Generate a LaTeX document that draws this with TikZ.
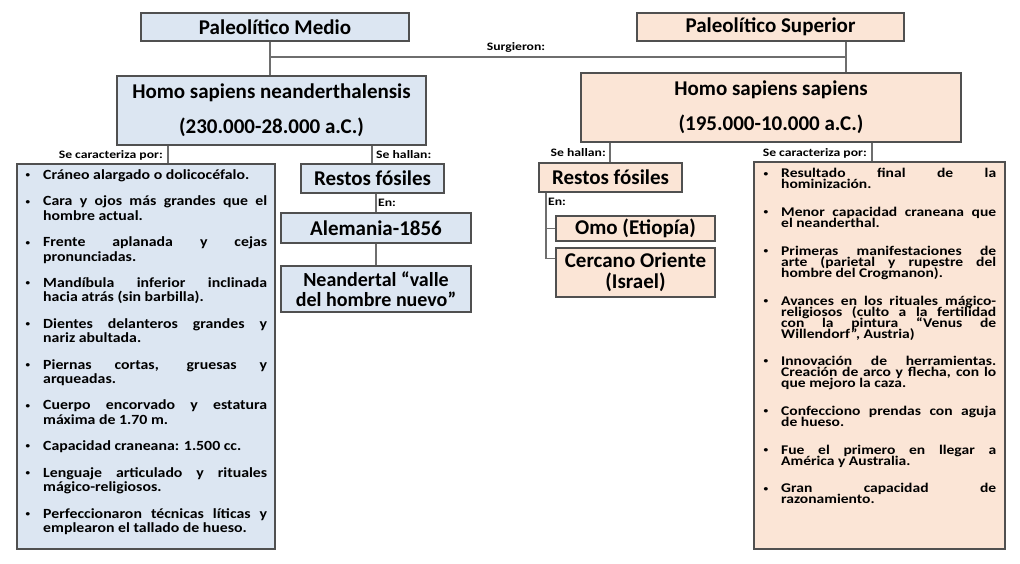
\documentclass[tikz,border=0pt]{standalone}
\usepackage{fontspec}
\setmainfont{Carlito}
\newfontfamily\listfontL[FakeStretch=1.13]{Carlito}
\newfontfamily\listfontR[FakeStretch=1.17]{Carlito}
\newfontfamily\labfont[FakeStretch=1.2]{Carlito}
\usetikzlibrary{calc}
\definecolor{bluefill}{RGB}{220,230,242}
\definecolor{peachfill}{RGB}{251,229,214}
\definecolor{edgec}{RGB}{80,80,80}
\definecolor{connc}{RGB}{110,110,110}
\newcommand\lstitem[1]{\noindent\hangindent=18pt\hangafter=1\makebox[18pt][l]{\hspace{0.5pt}\raisebox{1.8pt}{\fontsize{8}{8}\selectfont •}}#1\par}
\tikzset{
  box/.style={draw=edgec, line width=1.2pt, inner sep=0pt, font=\bfseries, align=center},
  bbox/.style={box, fill=bluefill},
  pbox/.style={box, fill=peachfill},
  conn/.style={draw=connc, line width=1.1pt},
  lab/.style={font=\labfont\bfseries\fontsize{11.4}{12}\selectfont, inner sep=0pt},
  listtext/.style={inner sep=0pt, anchor=base west, align=justify},
  ttl/.style={font=\bfseries\fontsize{21}{35}\selectfont},
  sml/.style={font=\bfseries\fontsize{21}{21}\selectfont},
}
\begin{document}
\begin{tikzpicture}[x=1pt,y=-1pt]
\fill[white] (0,0) rectangle (1020,564);
\useasboundingbox (0,0) rectangle (1020,564);

% top boxes
\node[bbox, ttl, minimum width=268pt, minimum height=28pt] (pm) at (275,27) {Paleolítico Medio};
\node[pbox, ttl, minimum width=267pt, minimum height=28pt] (ps) at (770.5,27) {Paleolítico Superior};

\node[bbox, ttl, minimum width=309pt, minimum height=69pt] (hsn) at (271.5,110.5) {Homo sapiens neanderthalensis\\(230.000-28.000 a.C.)};
\node[pbox, ttl, minimum width=380pt, minimum height=69pt] (hss) at (771,107.5) {Homo sapiens sapiens\\(195.000-10.000 a.C.)};

% list boxes
\node[bbox, minimum width=258pt, minimum height=385pt] (listL) at (146,356.5) {};
\node[pbox, minimum width=251pt, minimum height=387pt] (listR) at (879.5,355.5) {};

% small boxes left
\node[bbox, sml, minimum width=143pt, minimum height=29pt] (rfL) at (372.5,178.5) {Restos fósiles};
\node[bbox, sml, minimum width=190pt, minimum height=30pt] (alem) at (376,228) {Alemania-1856};
\node[bbox, font=\bfseries\fontsize{20}{20}\selectfont, minimum width=190pt, minimum height=46pt] (neand) at (376,289) {Neandertal “valle\\del hombre nuevo”};

% small boxes right
\node[pbox, sml, minimum width=143pt, minimum height=29pt] (rfR) at (610.5,177.5) {Restos fósiles};
\node[pbox, sml, minimum width=159pt, minimum height=25pt] (omo) at (635.5,228.5) {Omo (Etiopía)};
\node[pbox, sml, minimum width=159pt, minimum height=49pt] (cerc) at (635.5,272.5) {Cercano Oriente\\(Israel)};

% connectors
\coordinate (j1) at (270,57);
\coordinate (j2) at (846,57);
\draw[conn] (pm.south -| j1) -- (hsn.north -| j1);
\draw[conn] (j1) -- (j2);
\draw[conn] (ps.south -| j2) -- (hss.north -| j2);
\node[lab] (surg) at (516,47) {Surgieron:};

\coordinate (c1) at (168,0);
\draw[conn] (hsn.south -| c1) -- (listL.north -| c1);
\node[lab, anchor=east] (lbl1) at (163,155) {Se caracteriza por:};
\coordinate (c2) at (372,0);
\draw[conn] (hsn.south -| c2) -- (rfL.north -| c2);
\node[lab, anchor=west] (lbl2) at (376,155) {Se hallan:};
\coordinate (c3) at (376,0);
\draw[conn] (rfL.south -| c3) -- (alem.north -| c3);
\node[lab, anchor=west] (lbl3) at (378,203) {En:};
\draw[conn] (alem.south -| c3) -- (neand.north -| c3);

\coordinate (c4) at (610,0);
\draw[conn] (hss.south -| c4) -- (rfR.north -| c4);
\node[lab, anchor=east] (lbl4) at (606,153) {Se hallan:};
\coordinate (c5) at (872,0);
\draw[conn] (hss.south -| c5) -- (listR.north -| c5);
\node[lab, anchor=east] (lbl5) at (867,153) {Se caracteriza por:};

\coordinate (c6) at (546,0);
\coordinate (cb) at ($(cerc.north west)!0.22!(cerc.south west)$);
\draw[conn] (rfR.south -| c6) -- (c6 |- cb) -- (cb);
\draw[conn] (c6 |- omo.west) -- (omo.west);
\node[lab, anchor=west] (lbl6) at (548,202) {En:};

% list texts
\node[listtext, text width=242pt, font=\listfontL\bfseries\fontsize{14}{14.3}\selectfont] (txtL) at (25,179.5) {%
\parskip=12.2pt\lineskiplimit=-30pt\tolerance=10000\hyphenpenalty=10000\emergencystretch=20pt
\lstitem{Cráneo alargado o dolicocéfalo.}
\lstitem{Cara y ojos más grandes que el\linebreak hombre actual.}
\lstitem{Frente aplanada y cejas\linebreak pronunciadas.}
\lstitem{Mandíbula inferior inclinada\linebreak hacia atrás (sin barbilla).}
\lstitem{Dientes delanteros grandes y\linebreak nariz abultada.}
\lstitem{Piernas cortas, gruesas y\linebreak arqueadas.}
\lstitem{Cuerpo encorvado y estatura\linebreak máxima de 1.70 m.}
\lstitem{Capacidad craneana: 1.500 cc.}
\lstitem{Lenguaje articulado y rituales\linebreak mágico-religiosos.}
\lstitem{Perfeccionaron técnicas líticas y\linebreak emplearon el tallado de hueso.}
};

\node[listtext, text width=233pt, font=\listfontR\bfseries\fontsize{13.3}{11}\selectfont] (txtR) at (763,178) {%
\parskip=16.7pt\lineskiplimit=-30pt\tolerance=10000\hyphenpenalty=10000\emergencystretch=20pt
\lstitem{Resultado final de la\linebreak hominización.}
\lstitem{Menor capacidad craneana que\linebreak el neanderthal.}
\lstitem{Primeras manifestaciones de\linebreak arte (parietal y rupestre del\linebreak hombre del Crogmanon).}
\lstitem{Avances en los rituales mágico-\linebreak religiosos (culto a la fertilidad\linebreak con la pintura “Venus de\linebreak Willendorf”, Austria)}
\lstitem{Innovación de herramientas.\linebreak Creación de arco y flecha, con lo\linebreak que mejoro la caza.}
\lstitem{Confecciono prendas con aguja\linebreak de hueso.}
\lstitem{Fue el primero en llegar a\linebreak América y Australia.}
\lstitem{Gran capacidad de\linebreak razonamiento.}
};
\end{tikzpicture}
\end{document}
